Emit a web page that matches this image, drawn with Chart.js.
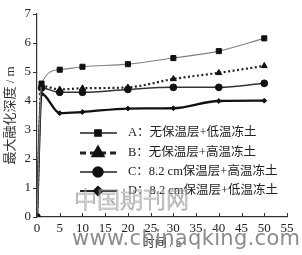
<!DOCTYPE html>
<html>
<head>
<meta charset="utf-8">
<script src="https://cdn.jsdelivr.net/npm/chart.js@4"></script>
<style>
  html, body { margin: 0; padding: 0; background: #fff; }
  #wrap { width: 302px; height: 255px; position: relative; }
</style>
</head>
<body>
<div id="wrap"><canvas id="c"></canvas></div>
<script>
// 时间 / a
var years = [0, 1, 5, 10, 20, 30, 40, 50];
// 最大融化深度 / m
var depthA = [0, 4.6, 5.08, 5.18, 5.27, 5.48, 5.72, 6.16];
var depthB = [0, 4.52, 4.4, 4.44, 4.47, 4.76, 4.97, 5.21];
var depthC = [0, 4.45, 4.3, 4.3, 4.4, 4.47, 4.47, 4.61];
var depthD = [0, 4.25, 3.58, 3.62, 3.74, 3.75, 4.0, 4.01];
var labels = [
  "A：无保温层+低温冻土",
  "B：无保温层+高温冻土",
  "C：8.2 cm保温层+高温冻土",
  "D：8.2 cm保温层+低温冻土",
];
var xTicks = [0, 5, 10, 15, 20, 25, 30, 35, 40, 45, 50, 55];

var serif = "'Liberation Serif', 'DejaVu Serif', 'Noto Sans CJK SC'";

function pts(v) {
  return years.map(function (x, i) { return { x: x, y: v[i] }; });
}

function ds(label, v, o) {
  return Object.assign({
    label: label,
    data: pts(v),
    cubicInterpolationMode: "monotone",
    pointBorderWidth: 1,
    fill: !1,
  }, o);
}

var legendPlugin = {
  id: "boxLegend",
  afterDraw(chart) {
    var ctx = chart.ctx, h = Chart.helpers;
    var rows = [133, 153, 172, 191];
    ctx.save();
    chart.data.datasets.forEach(function (d, i) {
      var y = rows[i];
      ctx.beginPath();
      ctx.setLineDash(d.legendDash || []);
      ctx.lineWidth = d.legendWidth;
      ctx.strokeStyle = "#222";
      ctx.moveTo(80, y);
      ctx.lineTo(117, y);
      ctx.stroke();
      ctx.setLineDash([]);
      ctx.fillStyle = "#111";
      ctx.strokeStyle = "#111";
      h.drawPoint(ctx, { pointStyle: d.pointStyle, radius: d.legendRadius, borderWidth: 1, rotation: 0 }, 98, y);
      ctx.fillStyle = "#222";
      ctx.font = "12.5px " + serif;
      ctx.textBaseline = "middle";
      ctx.textAlign = "left";
      ctx.fillText(d.label, 128, y);
    });
    // inward x ticks
    var xs = chart.scales.x, bottom = chart.chartArea.bottom;
    ctx.strokeStyle = "#333";
    ctx.lineWidth = 1;
    xTicks.forEach(function (t) {
      var px = Math.round(xs.getPixelForValue(t)) + 0.5;
      ctx.beginPath();
      ctx.moveTo(px, bottom);
      ctx.lineTo(px, bottom - 4);
      ctx.stroke();
    });
    // watermark
    ctx.strokeStyle = "#a0a0a0";
    ctx.lineWidth = 0.7;
    ctx.font = "200 23px 'Noto Sans CJK SC'";
    ctx.textAlign = "left";
    ctx.textBaseline = "middle";
    ctx.strokeText("中国期刊网", 74, 199);
    ctx.fillStyle = "#8c8c8c";
    ctx.font = "21px 'DejaVu Sans'";
    var s = "www.chinaqking.com";
    var w = ctx.measureText(s).width;
    ctx.letterSpacing = ((228 - w) / (s.length - 1)).toFixed(2) + "px";
    ctx.fillText(s, 72, 240);
    ctx.restore();
  },
};

new Chart(document.getElementById("c"), {
  type: "line",
  data: {
    datasets: [
      ds(labels[0], depthA, {
        borderColor: "#808080", borderWidth: 1.1,
        pointStyle: "rect", pointRadius: 3.6,
        pointBackgroundColor: "#111", pointBorderColor: "#111",
        legendWidth: 1.3, legendRadius: 4.5,
      }),
      ds(labels[1], depthB, {
        borderColor: "#222", borderWidth: 2.2, borderDash: [2, 2.5],
        pointStyle: "triangle", pointRadius: 3.4,
        pointBackgroundColor: "#111", pointBorderColor: "#111",
        legendWidth: 3, legendDash: [6, 4], legendRadius: 5.5,
      }),
      ds(labels[2], depthC, {
        borderColor: "#333", borderWidth: 1.5,
        pointStyle: "circle", pointRadius: 3.4,
        pointBackgroundColor: "#111", pointBorderColor: "#111",
        legendWidth: 1.5, legendRadius: 5,
      }),
      ds(labels[3], depthD, {
        borderColor: "#111", borderWidth: 2.3,
        pointStyle: "rectRot", pointRadius: 2.4,
        pointBackgroundColor: "#111", pointBorderColor: "#111",
        legendWidth: 2, legendRadius: 4.2,
      }),
    ],
  },
  options: {
    responsive: !0,
    maintainAspectRatio: !1,
    animation: !1,
    layout: { padding: { top: 14, right: 15, left: 0, bottom: 0 } },
    plugins: { legend: { display: !1 }, tooltip: { enabled: !1 } },
    scales: {
      x: {
        type: "linear",
        min: 0,
        max: 55,
        afterFit(s) { s.height = 38; },
        afterBuildTicks(s) { s.ticks = xTicks.map(function (v) { return { value: v }; }); },
        grid: { display: !0, drawOnChartArea: !1, drawTicks: !1 },
        border: { color: "#333", width: 1.2 },
        ticks: { color: "#222", padding: 4, font: { family: serif, size: 13 } },
        title: {
          display: !0, text: "时间 / a", color: "#333",
          font: { family: serif, size: 12 }, padding: { top: 0, bottom: 4 },
        },
      },
      y: {
        min: 0,
        max: 7,
        afterFit(s) { s.width = 37; },
        grid: { drawOnChartArea: !1, tickLength: 4, color: "#333" },
        border: { color: "#333", width: 1.2 },
        ticks: { stepSize: 1, color: "#222", padding: 2, font: { family: serif, size: 13 } },
        title: {
          display: !0, text: "最大融化深度 / m", color: "#333",
          font: { family: serif, size: 13 }, padding: { top: 3, bottom: 0 },
        },
      },
    },
  },
  plugins: [legendPlugin],
});
</script>
</body>
</html>
